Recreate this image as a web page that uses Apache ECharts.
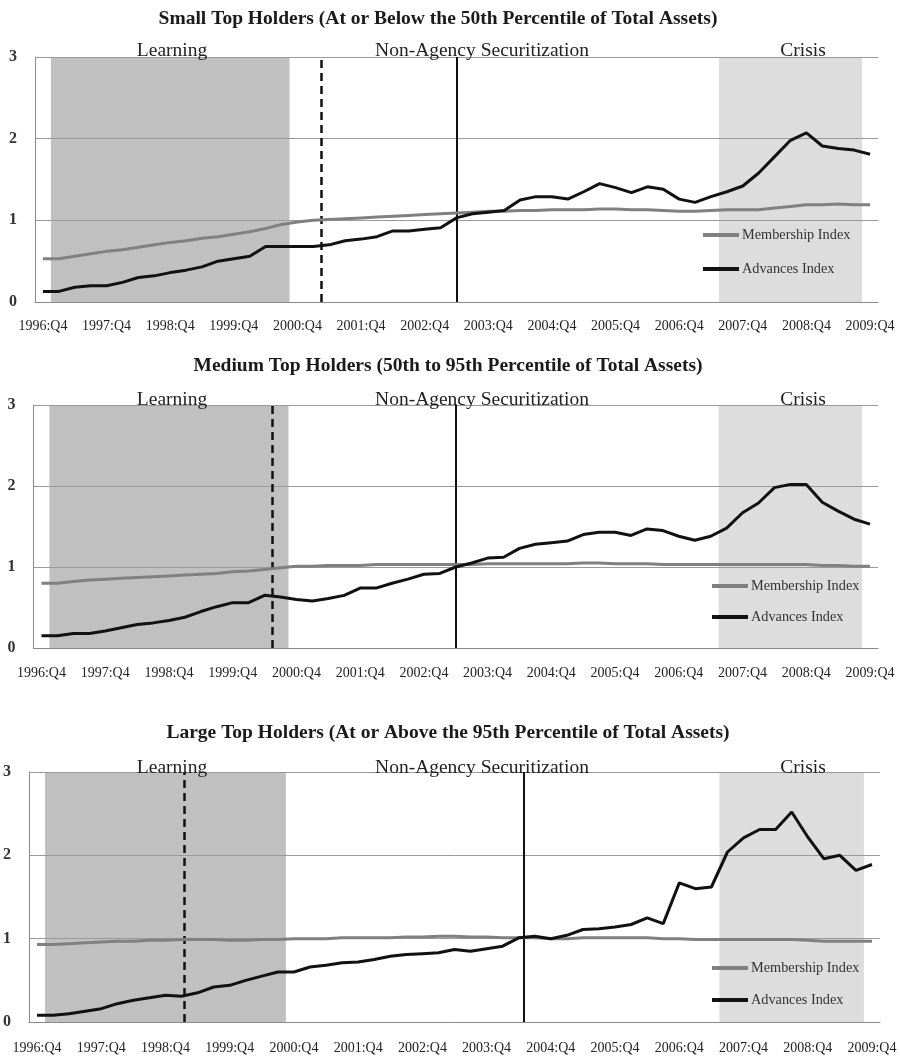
<!DOCTYPE html>
<html>
<head>
<meta charset="utf-8">
<title>Top Holders: Membership and Advances Indexes</title>
<script src="https://cdn.jsdelivr.net/npm/echarts@6/dist/echarts.min.js"></script>
<style>
  html, body { margin: 0; padding: 0; background: #fff; }
  #main { width: 900px; height: 1056px; }
</style>
</head>
<body>
<div id="main"></div>
<script>
// quarterly categories, 1996:Q4 .. 2009:Q4
const quarters = [
  '1996:Q4',
  '1997:Q1', '1997:Q2', '1997:Q3', '1997:Q4',
  '1998:Q1', '1998:Q2', '1998:Q3', '1998:Q4',
  '1999:Q1', '1999:Q2', '1999:Q3', '1999:Q4',
  '2000:Q1', '2000:Q2', '2000:Q3', '2000:Q4',
  '2001:Q1', '2001:Q2', '2001:Q3', '2001:Q4',
  '2002:Q1', '2002:Q2', '2002:Q3', '2002:Q4',
  '2003:Q1', '2003:Q2', '2003:Q3', '2003:Q4',
  '2004:Q1', '2004:Q2', '2004:Q3', '2004:Q4',
  '2005:Q1', '2005:Q2', '2005:Q3', '2005:Q4',
  '2006:Q1', '2006:Q2', '2006:Q3', '2006:Q4',
  '2007:Q1', '2007:Q2', '2007:Q3', '2007:Q4',
  '2008:Q1', '2008:Q2', '2008:Q3', '2008:Q4',
  '2009:Q1', '2009:Q2', '2009:Q3', '2009:Q4'
];

const yTicks = [0, 1, 2, 3];

// small top holders
const smallMembership = [
  0.53, 0.53, 0.56, 0.59, 0.62, 0.64, 0.67, 0.70, 0.73, 0.75, 0.78, 0.80, 0.83,
  0.86, 0.90, 0.95, 0.98, 1.00, 1.01, 1.02, 1.03, 1.04, 1.05, 1.06, 1.07, 1.08,
  1.09, 1.10, 1.11, 1.11, 1.12, 1.12, 1.13, 1.13, 1.13, 1.14, 1.14, 1.13, 1.13,
  1.12, 1.11, 1.11, 1.12, 1.13, 1.13, 1.13, 1.15, 1.17, 1.19, 1.19, 1.20, 1.19, 1.19
];
const smallAdvances = [
  0.13, 0.13, 0.18, 0.20, 0.20, 0.24, 0.30, 0.32, 0.36, 0.39, 0.43, 0.50, 0.53,
  0.56, 0.68, 0.68, 0.68, 0.68, 0.70, 0.75, 0.77, 0.80, 0.87, 0.87, 0.89, 0.91,
  1.03, 1.08, 1.10, 1.12, 1.25, 1.29, 1.29, 1.26, 1.35, 1.45, 1.40, 1.34, 1.41,
  1.38, 1.26, 1.22, 1.29, 1.35, 1.42, 1.58, 1.78, 1.98, 2.07, 1.91, 1.88, 1.86, 1.81
];

// medium top holders
const mediumMembership = [
  0.80, 0.80, 0.82, 0.84, 0.85, 0.86, 0.87, 0.88, 0.89, 0.90, 0.91, 0.92, 0.94,
  0.95, 0.97, 0.99, 1.01, 1.01, 1.02, 1.02, 1.02, 1.03, 1.03, 1.03, 1.03, 1.03,
  1.03, 1.03, 1.04, 1.04, 1.04, 1.04, 1.04, 1.04, 1.05, 1.05, 1.04, 1.04, 1.04,
  1.03, 1.03, 1.03, 1.03, 1.03, 1.03, 1.03, 1.03, 1.03, 1.03, 1.02, 1.02, 1.01, 1.01
];
const mediumAdvances = [
  0.15, 0.15, 0.18, 0.18, 0.21, 0.25, 0.29, 0.31, 0.34, 0.38, 0.45, 0.51, 0.56,
  0.56, 0.65, 0.63, 0.60, 0.58, 0.61, 0.65, 0.74, 0.74, 0.80, 0.85, 0.91, 0.92,
  1.00, 1.05, 1.11, 1.12, 1.23, 1.28, 1.30, 1.32, 1.40, 1.43, 1.43, 1.39, 1.47,
  1.45, 1.38, 1.33, 1.38, 1.48, 1.67, 1.79, 1.98, 2.02, 2.02, 1.80, 1.69, 1.59, 1.53
];

// large top holders
const largeMembership = [
  0.93, 0.93, 0.94, 0.95, 0.96, 0.97, 0.97, 0.98, 0.98, 0.99, 0.99, 0.99, 0.98,
  0.98, 0.99, 0.99, 1.00, 1.00, 1.00, 1.01, 1.01, 1.01, 1.01, 1.02, 1.02, 1.03,
  1.03, 1.02, 1.02, 1.01, 1.01, 1.01, 1.00, 1.00, 1.01, 1.01, 1.01, 1.01, 1.01,
  1.00, 1.00, 0.99, 0.99, 0.99, 0.99, 0.99, 0.99, 0.99, 0.98, 0.97, 0.97, 0.97, 0.97
];
const largeAdvances = [
  0.08, 0.08, 0.10, 0.13, 0.16, 0.22, 0.26, 0.29, 0.32, 0.31, 0.35, 0.42, 0.44,
  0.50, 0.55, 0.60, 0.60, 0.66, 0.68, 0.71, 0.72, 0.75, 0.79, 0.81, 0.82, 0.83,
  0.87, 0.85, 0.88, 0.91, 1.01, 1.03, 1.00, 1.04, 1.11, 1.12, 1.14, 1.17, 1.25,
  1.18, 1.67, 1.60, 1.62, 2.04, 2.21, 2.31, 2.31, 2.52, 2.22, 1.96, 2.00, 1.82, 1.89
];

// periods and event lines, in quarter units (0 = left edge of 1996:Q4)
const learningSpan = [1, 16];
const crisisSpan = [43, 52];
const dashedEvent = [18, 15, 9.7];
const solidEvent = [26.5, 26.5, 30.8];

const panelTitles = [
  'Small Top Holders (At or Below the 50th Percentile of Total Assets)',
  'Medium Top Holders (50th to 95th Percentile of Total Assets)',
  'Large Top Holders (At or Above the 95th Percentile of Total Assets)'
];
const membershipData = [smallMembership, mediumMembership, largeMembership];
const advancesData = [smallAdvances, mediumAdvances, largeAdvances];

const serif = '"Liberation Serif", "Times New Roman", serif';

// layout of the three panels
const panels = [
  { left: 35, top: 57, width: 843, height: 245, titleX: 433, titleY: 4, periodY: 36, legendX: 698, legendY: 223, legendGap: 20, labelMargin: 17 },
  { left: 33.5, top: 405, width: 844.5, height: 243, titleX: 443, titleY: 351, periodY: 385, legendX: 707, legendY: 574, legendGap: 17, labelMargin: 18 },
  { left: 29, top: 772, width: 851, height: 250, titleX: 443, titleY: 718, periodY: 753, legendX: 707, legendY: 956, legendGap: 18, labelMargin: 19 }
];
const periodLabelX = [167, 477, 798];
const periodNames = ['Learning', 'Non-Agency Securitization', 'Crisis'];

let myChart = echarts.init(document.getElementById('main'));

const grid = [], xAxis = [], yAxis = [], series = [], title = [], legend = [];

panels.forEach((p, k) => {
  grid.push({ left: p.left, top: p.top, width: p.width, height: p.height });

  xAxis.push({
    type: 'category',
    gridIndex: k,
    data: quarters,
    boundaryGap: true,
    z: 3,
    axisLine: { lineStyle: { color: '#8a8a8a', width: 1 } },
    axisTick: { interval: 3, length: 5, lineStyle: { color: '#8a8a8a' } },
    axisLabel: { interval: 3, margin: p.labelMargin, fontFamily: serif, fontSize: 14, color: '#222' }
  });
  xAxis.push({ type: 'value', gridIndex: k, min: 0, max: quarters.length, show: false });

  yAxis.push({
    type: 'value',
    gridIndex: k,
    min: yTicks[0],
    max: yTicks[yTicks.length - 1],
    interval: 1,
    z: 3,
    axisLine: { show: true, lineStyle: { color: '#8a8a8a', width: 1 } },
    axisTick: { show: false },
    axisLabel: { margin: 18, fontFamily: serif, fontSize: 16, fontWeight: 'bold', color: '#333' },
    splitLine: { lineStyle: { color: '#9a9a9a', width: 1 } }
  });

  // shaded periods
  series.push({
    name: 'periods' + k,
    type: 'line',
    xAxisIndex: 2 * k + 1,
    yAxisIndex: k,
    data: [],
    z: 1,
    silent: true,
    markArea: {
      silent: true,
      data: [
        [{ xAxis: learningSpan[0], itemStyle: { color: '#c0c0c0' } }, { xAxis: learningSpan[1] }],
        [{ xAxis: crisisSpan[0], itemStyle: { color: '#dddddd' } }, { xAxis: crisisSpan[1] }]
      ]
    }
  });

  // event lines
  series.push({
    name: 'events' + k,
    type: 'line',
    xAxisIndex: 2 * k + 1,
    yAxisIndex: k,
    data: [],
    z: 4,
    silent: true,
    markLine: {
      silent: true,
      symbol: ['none', 'none'],
      label: { show: false },
      data: [
        { xAxis: dashedEvent[k], lineStyle: { color: '#111', width: 2.5, type: [8, 5] } },
        { xAxis: solidEvent[k], lineStyle: { color: '#111', width: 2, type: 'solid' } }
      ]
    }
  });

  series.push({
    name: 'Membership Index',
    type: 'line',
    xAxisIndex: 2 * k,
    yAxisIndex: k,
    data: membershipData[k],
    showSymbol: false,
    z: 5,
    itemStyle: { color: '#808080' },
    lineStyle: { color: '#808080', width: 3 }
  });
  series.push({
    name: 'Advances Index',
    type: 'line',
    xAxisIndex: 2 * k,
    yAxisIndex: k,
    data: advancesData[k],
    showSymbol: false,
    z: 6,
    itemStyle: { color: '#111111' },
    lineStyle: { color: '#111111', width: 3 }
  });

  title.push({
    text: panelTitles[k],
    left: p.titleX,
    top: p.titleY,
    textAlign: 'center',
    textStyle: { fontFamily: serif, fontSize: 19.5, fontWeight: 'bold', color: '#1a1a1a' }
  });
  periodNames.forEach((name, j) => {
    title.push({
      text: name,
      left: periodLabelX[j],
      top: p.periodY,
      textAlign: 'center',
      textStyle: { fontFamily: serif, fontSize: 19.5, fontWeight: 'normal', color: '#222' }
    });
  });

  legend.push({
    data: ['Membership Index', 'Advances Index'],
    left: p.legendX,
    top: p.legendY,
    orient: 'vertical',
    icon: 'rect',
    itemWidth: 36,
    itemHeight: 4,
    itemGap: p.legendGap,
    selectedMode: false,
    textStyle: { fontFamily: serif, fontSize: 14.3, color: '#333', padding: [0, 0, 0, -2] }
  });
});

let option = {
  animation: false,
  backgroundColor: '#ffffff',
  title: title,
  legend: legend,
  grid: grid,
  xAxis: xAxis,
  yAxis: yAxis,
  series: series
};
myChart.setOption(option);
</script>
</body>
</html>
